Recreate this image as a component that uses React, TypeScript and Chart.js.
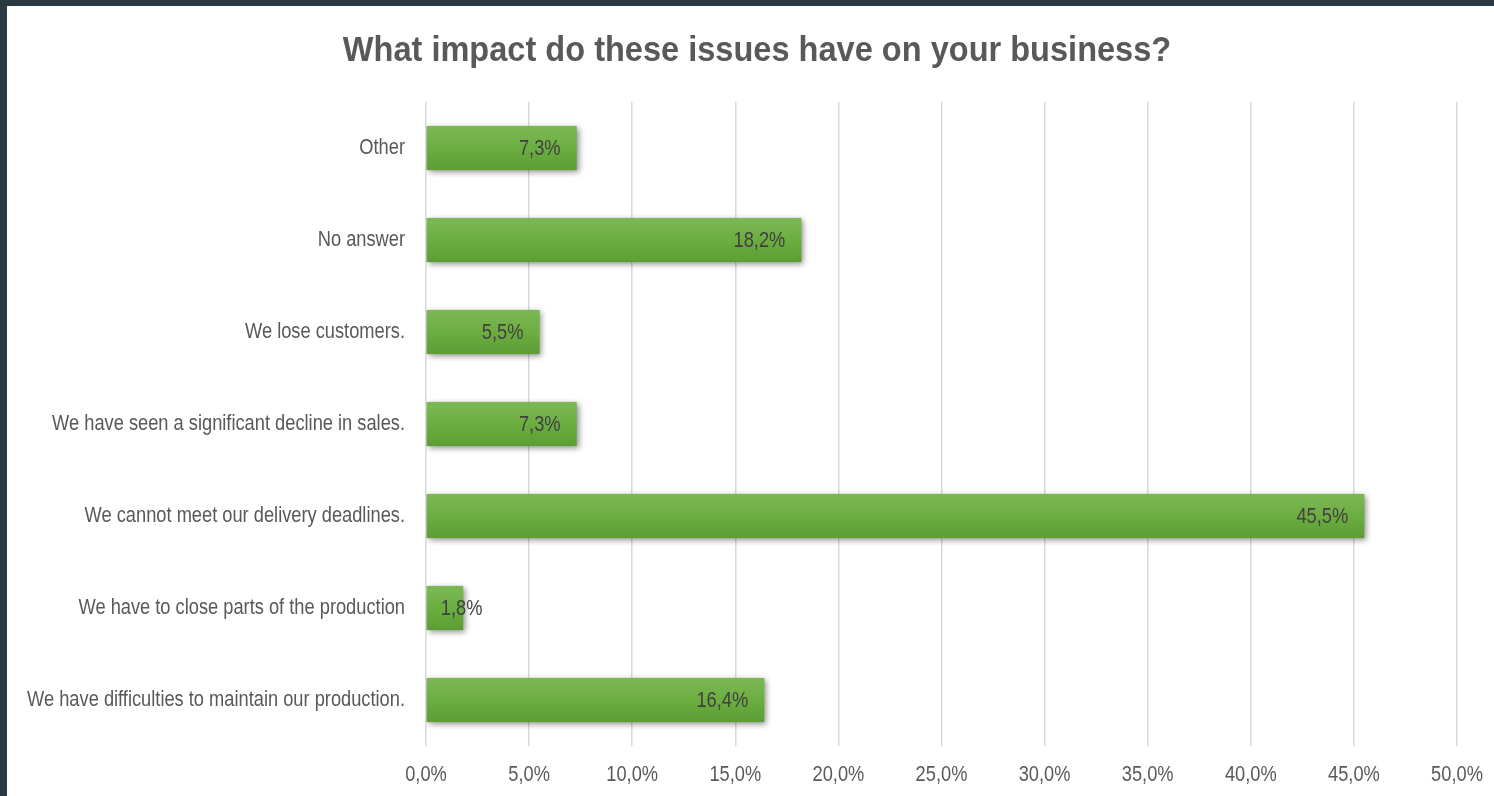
import React, { useEffect, useRef } from "react";
import { Chart, registerables } from "chart.js";

Chart.register(...registerables);

const chartTitle = "What impact do these issues have on your business?";
const categories = [
  "Other",
  "No answer",
  "We lose customers.",
  "We have seen a significant decline in sales.",
  "We cannot meet our delivery deadlines.",
  "We have to close parts of the production",
  "We have difficulties to maintain our production.",
];
const values = [7.3, 18.2, 5.5, 7.3, 45.5, 1.8, 16.4];
const xMin = 0;
const xMax = 50;
const xStep = 5;

const FONT = '"Liberation Sans", Arial, sans-serif';
const NARROW = 0.83;
const fmt = (v: number) => v.toFixed(1).replace(".", ",") + "%";

function withNarrow(ctx: any, sx: number, draw: () => void) {
  const orig = CanvasRenderingContext2D.prototype.fillText;
  ctx.fillText = function (text: string, x: number, y: number) {
    this.save();
    this.translate(x, y);
    this.scale(sx, 1);
    orig.call(this, text, 0, 0);
    this.restore();
  };
  try {
    draw();
  } finally {
    delete ctx.fillText;
  }
}

const narrowScalePlugin = {
  id: "narrowScales",
  beforeDraw(chart: any) {
    Object.values(chart.scales).forEach((s: any) => {
      if (s.__narrowed) return;
      const orig = s.drawLabels.bind(s);
      s.drawLabels = (area: any) => withNarrow(chart.ctx, NARROW, () => orig(area));
      s.__narrowed = true;
    });
  },
};

const barStylePlugin = {
  id: "barStyle",
  beforeDatasetDraw(chart: any) {
    const ctx = chart.ctx;
    ctx.save();
    ctx.shadowColor = "rgba(0,0,0,0.45)";
    ctx.shadowBlur = 6;
    ctx.shadowOffsetX = 2;
    ctx.shadowOffsetY = 2;
  },
  afterDatasetDraw(chart: any, args: any) {
    const ctx = chart.ctx;
    ctx.restore();
    ctx.save();
    args.meta.data.forEach((el: any) => {
      const top = el.y - el.height / 2;
      const left = Math.min(el.base, el.x);
      const w = Math.abs(el.x - el.base);
      const g = ctx.createLinearGradient(0, top, 0, top + el.height);
      g.addColorStop(0, "#7cb955");
      g.addColorStop(0.5, "#6cae41");
      g.addColorStop(1, "#5d9d35");
      ctx.fillStyle = g;
      ctx.fillRect(left, top, w, el.height);
    });
    ctx.restore();
  },
};

const labelPlugin = {
  id: "valueLabels",
  afterDatasetsDraw(chart: any) {
    const ctx = chart.ctx;
    const meta = chart.getDatasetMeta(0);
    ctx.save();
    ctx.font = `22px ${FONT}`;
    ctx.fillStyle = "#404040";
    ctx.textBaseline = "middle";
    ctx.textAlign = "left";
    withNarrow(ctx, NARROW, () => {
      meta.data.forEach((el: any, i: number) => {
        const txt = fmt(values[i]);
        const w = ctx.measureText(txt).width * NARROW;
        const x = Math.max(el.base + 14, el.x - 16 - w);
        ctx.fillText(txt, x, el.y + 1);
      });
    });
    ctx.restore();
  },
};

const titlePlugin = {
  id: "customTitle",
  afterDraw(chart: any) {
    const ctx = chart.ctx;
    ctx.save();
    ctx.font = `bold 35px ${FONT}`;
    ctx.fillStyle = "#595959";
    ctx.textAlign = "center";
    ctx.textBaseline = "middle";
    withNarrow(ctx, 0.93, () => {
      ctx.fillText(chartTitle, 750, 45);
    });
    ctx.restore();
  },
};

export default function App() {
  const ref = useRef<HTMLCanvasElement | null>(null);
  useEffect(() => {
    if (!ref.current) return;
    const chart = new Chart(ref.current, {
      type: "bar",
      data: {
        labels: categories,
        datasets: [
          {
            data: values,
            backgroundColor: "#6cae41",
            borderWidth: 0,
            barPercentage: 0.48,
            categoryPercentage: 1,
          },
        ],
      },
      options: {
        indexAxis: "y",
        responsive: false,
        animation: false,
        devicePixelRatio: 1,
        layout: { padding: { top: 96, right: 37, left: 0, bottom: 0 } },
        plugins: {
          legend: { display: false },
          title: { display: false },
          tooltip: { enabled: false },
        },
        scales: {
          x: {
            min: xMin,
            max: xMax,
            ticks: {
              stepSize: xStep,
              callback: (v: any) => fmt(Number(v)),
              font: { family: FONT, size: 22 },
              color: "#595959",
              padding: 16,
              maxRotation: 0,
              autoSkip: false,
            },
            grid: { color: "#d9d9d9", lineWidth: 1.5, drawTicks: false },
            border: { display: false },
            afterFit: (s: any) => {
              s.height = 50;
              s.paddingLeft = 0;
              s.paddingRight = 0;
            },
          },
          y: {
            ticks: {
              font: { family: FONT, size: 22 },
              color: "#595959",
              padding: 21,
            },
            grid: { display: false, drawTicks: false },
            border: { display: false },
            afterFit: (s: any) => {
              s.width = 419;
            },
          },
        },
      },
      plugins: [narrowScalePlugin, barStylePlugin, labelPlugin, titlePlugin],
    });
    return () => chart.destroy();
  }, []);

  return (
    <div style={{ position: "fixed", left: 0, top: 0, width: 1494, height: 796, background: "#2b3a42" }}>
      <div style={{ position: "absolute", left: 7, top: 6, width: 1487, height: 790, background: "#ffffff" }}>
        <canvas ref={ref} width={1487} height={790} style={{ display: "block", width: 1487, height: 790 }} />
      </div>
    </div>
  );
}
